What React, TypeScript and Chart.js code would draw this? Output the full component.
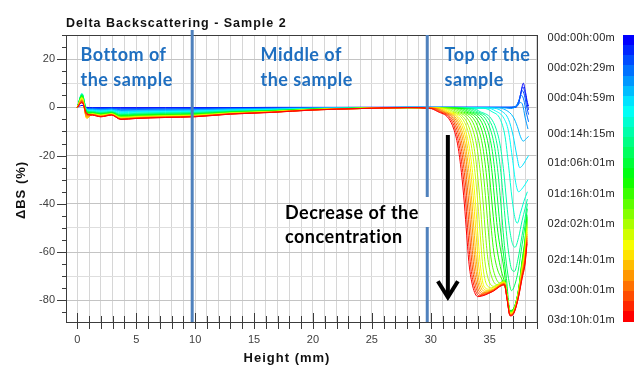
import React, { useEffect, useRef } from "react";
import { Chart, registerables } from "chart.js";
Chart.register(...registerables);

// ---------- DATA ----------
const chartTitle = "Delta Backscattering - Sample 2";
const xTitle = "Height (mm)";
const yTitle = "ΔBS (%)";
const timeLabels = ["00d:00h:00m", "00d:02h:29m", "00d:04h:59m", "00d:14h:15m", "01d:06h:01m", "01d:16h:01m", "02d:02h:01m", "02d:14h:01m", "03d:00h:01m", "03d:10h:01m"];
const zoneLabels = [["Bottom of", "the sample"], ["Middle of", "the sample"], ["Top of the", "sample"]];
const noteLines = ["Decrease of the", "concentration"];
const zoneBoundaries = [9.75, 29.7]; // mm
const arrowHeight = 31.45; // mm
const arrowFrom = -11.5;
const arrowTo = -80;

// bottom / middle part of every scan, sampled at these heights (mm)
const baseHeights = [0, 0.4, 0.8, 1.3, 2, 2.9, 3.7, 5, 7.5, 10, 13, 16.5, 20, 24, 28];
const b00 = [0, 0.8, 0, -0.1, -0.1, -0.1, -0.1, -0.1, -0.1, -0.1, -0.1, 0, 0, 0, 0];
const b01 = [0, 2, -0.3, -0.3, -0.3, -0.3, -0.4, -0.4, -0.3, -0.3, -0.2, -0.2, -0.1, 0, 0];
const b02 = [0, 2.5, -0.5, -0.4, -0.5, -0.4, -0.7, -0.6, -0.6, -0.5, -0.4, -0.3, -0.2, -0.1, 0];
const b03 = [0, 3, -0.6, -0.6, -0.8, -0.6, -1.0, -0.9, -0.8, -0.8, -0.6, -0.4, -0.2, -0.1, 0];
const b04 = [0, 3.5, -0.8, -0.8, -1.0, -0.8, -1.3, -1.2, -1.1, -1.0, -0.7, -0.5, -0.3, -0.1, 0];
const b05 = [0, 4.5, -1, -1.0, -1.2, -1.0, -1.6, -1.5, -1.3, -1.2, -0.9, -0.7, -0.4, -0.2, 0];
const b06 = [0, 5, -1, -1.2, -1.5, -1.2, -1.9, -1.7, -1.6, -1.5, -1.1, -0.8, -0.4, -0.2, 0];
const b07 = [0, 5.5, -1.2, -1.4, -1.7, -1.4, -2.2, -2.0, -1.8, -1.7, -1.2, -0.9, -0.5, -0.2, 0];
const b08 = [0, 5.8, -1.3, -1.6, -2.0, -1.6, -2.5, -2.3, -2.1, -2.0, -1.4, -1.1, -0.6, -0.3, -0.1];
const b09 = [0, 5.5, -1.5, -1.8, -2.1, -1.8, -2.8, -2.5, -2.3, -2.1, -1.5, -1.2, -0.6, -0.3, -0.1];
const b10 = [0, 5.5, -1.5, -1.9, -2.3, -1.9, -3.0, -2.8, -2.5, -2.3, -1.7, -1.3, -0.7, -0.3, -0.1];
const b11 = [0, 5, -1.8, -2.0, -2.5, -2.0, -3.2, -2.9, -2.7, -2.5, -1.8, -1.3, -0.7, -0.3, -0.1];
const b12 = [0, 5, -2, -2.2, -2.7, -2.2, -3.4, -3.1, -2.9, -2.7, -1.9, -1.4, -0.7, -0.3, -0.1];
const b13 = [0, 4.8, -2, -2.3, -2.8, -2.3, -3.6, -3.3, -3.0, -2.8, -2.0, -1.5, -0.8, -0.4, -0.1];
const b14 = [0, 4.5, -2.2, -2.4, -2.9, -2.4, -3.7, -3.4, -3.1, -2.9, -2.1, -1.6, -0.8, -0.4, -0.1];
const b15 = [0, 4.5, -2.5, -2.5, -3.0, -2.5, -3.9, -3.5, -3.2, -3.0, -2.2, -1.6, -0.8, -0.4, -0.1];
const b16 = [0, 4.2, -2.8, -2.6, -3.1, -2.6, -4.0, -3.7, -3.4, -3.1, -2.2, -1.7, -0.9, -0.4, -0.1];
const b17 = [0, 4, -3, -2.6, -3.2, -2.6, -4.1, -3.8, -3.4, -3.2, -2.3, -1.7, -0.9, -0.4, -0.1];
const b18 = [0, 4, -3.2, -2.7, -3.3, -2.7, -4.2, -3.9, -3.5, -3.3, -2.4, -1.8, -0.9, -0.4, -0.1];
const b19 = [0, 4, -3.5, -2.8, -3.4, -2.8, -4.3, -4.0, -3.6, -3.4, -2.4, -1.8, -0.9, -0.4, -0.1];
const b20 = [0, 3.8, -4, -2.8, -3.4, -2.8, -4.4, -4.0, -3.7, -3.4, -2.5, -1.8, -1.0, -0.4, -0.1];
const b21 = [0, 3.5, -4.5, -2.9, -3.5, -2.9, -4.5, -4.1, -3.8, -3.5, -2.5, -1.9, -1.0, -0.5, -0.1];
const b22 = [0, 3.2, -4.5, -2.9, -3.6, -2.9, -4.6, -4.2, -3.9, -3.6, -2.6, -1.9, -1.0, -0.5, -0.1];
const b23 = [0, 3, -4, -3.0, -3.7, -3.0, -4.7, -4.3, -3.9, -3.7, -2.6, -2.0, -1.0, -0.5, -0.1];
const b24 = [0, 2.8, -3.5, -3.0, -3.7, -3.0, -4.8, -4.4, -4.0, -3.7, -2.7, -2.0, -1.0, -0.5, -0.1];
const b25 = [0, 2.5, -3, -3.1, -3.8, -3.1, -4.9, -4.5, -4.1, -3.8, -2.7, -2.0, -1.1, -0.5, -0.1];
const b26 = [0, 2.2, -2.8, -3.2, -3.9, -3.2, -5.0, -4.6, -4.2, -3.9, -2.8, -2.1, -1.1, -0.5, -0.1];
const b27 = [0, 2, -2.5, -3.2, -3.9, -3.2, -5.0, -4.6, -4.2, -3.9, -2.8, -2.1, -1.1, -0.5, -0.1];

// top part of every scan: [height mm, ΔBS %]
const t00 = [[37.1, 0], [37.45, 1.5], [37.65, 6], [37.85, 10], [38.05, 6], [38.2, 2], [38.3, 0.5]];
const t01 = [[37.0, 0], [37.4, 1], [37.6, 5], [37.8, 8.5], [38.0, 6], [38.2, 1], [38.3, -1]];
const t02 = [[36.8, 0], [37.3, 0.8], [37.55, 4], [37.75, 7], [37.95, 5], [38.15, 0], [38.3, -3]];
const t03 = [[36.5, 0], [37.2, 0.5], [37.5, 3], [37.7, 5], [37.9, 3], [38.1, -2], [38.3, -6]];
const t04 = [[36.0, -0.1], [36.8, -0.5], [37.3, 0.5], [37.6, 2], [37.8, 1], [38.0, -4], [38.25, -9]];
const t05 = [[35.6, -0.2], [36.4, -1.2], [37.0, -4], [37.35, -8], [37.6, -12], [37.85, -14], [38.1, -13], [38.3, -12]];
const t06 = [[35.2, -0.3], [36.0, -1.5], [36.6, -5], [37.0, -12], [37.3, -20], [37.55, -25], [37.8, -24], [38.05, -22], [38.3, -20]];
const t07 = [[34.8, -0.3], [35.5, -1.5], [36.2, -4.5], [36.6, -10], [36.95, -22], [37.2, -31], [37.45, -35], [37.7, -34], [38.0, -32], [38.25, -30]];
const t08 = [[34.5, -0.4], [35.2, -1.8], [35.9, -5], [36.3, -12], [36.6, -24], [36.9, -38], [37.15, -46], [37.35, -48], [37.6, -44], [37.9, -39], [38.2, -35]];
const t09 = [[33.5, -0.4], [34.2, -1.8], [35.1, -4.5], [35.55, -9], [35.9, -16], [36.2, -27], [36.45, -40], [36.65, -49], [36.9, -56], [37.15, -58], [37.45, -54], [37.75, -47], [38.0, -42], [38.2, -38]];
const t10 = [[33.25, -0.4], [33.95, -1.8], [34.85, -4.5], [35.3, -9], [35.65, -16], [35.95, -27], [36.2, -40], [36.4, -51], [36.6, -60], [36.85, -67], [37.1, -68], [37.4, -63], [37.75, -53], [38.0, -46], [38.2, -40]];
const t11 = [[33.0, -0.4], [33.7, -1.8], [34.6, -4.5], [35.05, -9], [35.4, -16], [35.7, -27], [35.95, -40], [36.15, -52], [36.35, -62], [36.6, -71], [36.85, -76], [37.1, -74], [37.41, -68], [37.75, -57], [38.0, -49], [38.2, -42]];
const t12 = [[32.75, -0.4], [33.45, -1.8], [34.35, -4.5], [34.8, -9], [35.15, -16], [35.45, -27], [35.7, -40], [35.9, -50], [36.1, -58], [36.4, -70], [36.73, -84.2], [36.98, -83.7], [37.41, -76.5], [37.75, -63.5], [38.0, -54.5], [38.17, -44.5]];
const t13 = [[32.5, -0.4], [33.2, -1.8], [34.1, -4.5], [34.55, -9], [34.9, -16], [35.2, -27], [35.45, -40], [35.65, -50], [35.85, -57], [36.15, -65], [36.47, -77], [36.73, -84.4], [36.98, -83.9], [37.41, -76.7], [37.75, -64], [38.0, -55.2], [38.17, -45.3]];
const t14 = [[32.25, -0.4], [32.95, -1.8], [33.85, -4.5], [34.3, -9], [34.65, -16], [34.95, -27], [35.2, -40], [35.4, -50], [35.6, -58], [35.9, -66], [36.2, -71.5], [36.47, -77.5], [36.73, -84.5], [36.98, -84], [37.41, -76.9], [37.75, -64.5], [38.0, -55.9], [38.17, -46.1]];
const t15 = [[32.0, -0.4], [32.7, -1.8], [33.6, -4.5], [34.05, -9], [34.4, -16], [34.7, -27], [34.95, -40], [35.15, -51], [35.35, -60], [35.65, -67], [36.1, -72], [36.47, -77.7], [36.73, -84.7], [36.98, -84.2], [37.41, -77.1], [37.75, -65], [38.0, -56.6], [38.17, -46.9]];
const t16 = [[31.75, -0.4], [32.45, -1.8], [33.35, -4.5], [33.8, -9], [34.15, -16], [34.45, -27], [34.7, -40], [34.9, -52], [35.1, -62], [35.4, -69], [35.85, -72.8], [36.25, -71.9], [36.47, -77.8], [36.73, -84.8], [36.98, -84.3], [37.41, -77.3], [37.75, -65.5], [38.0, -57.3], [38.17, -47.7]];
const t17 = [[31.5, -0.4], [32.2, -1.8], [33.1, -4.5], [33.55, -9], [33.9, -16], [34.2, -27], [34.45, -40], [34.65, -53], [34.85, -63], [35.15, -70], [35.6, -73.5], [36.25, -72.1], [36.47, -78], [36.73, -85], [36.98, -84.5], [37.41, -77.5], [37.75, -66], [38.0, -58], [38.17, -48.5]];
const t18 = [[31.25, -0.4], [31.95, -1.8], [32.85, -4.5], [33.3, -9], [33.65, -16], [33.95, -27], [34.2, -40], [34.4, -53], [34.6, -64], [34.9, -71.5], [35.35, -74.2], [36.25, -72.2], [36.47, -78.2], [36.73, -85.2], [36.98, -84.6], [37.41, -77.7], [37.75, -66.5], [38.0, -58.7], [38.17, -49.3]];
const t19 = [[31.05, -0.4], [31.75, -1.8], [32.65, -4.5], [33.1, -9], [33.45, -16], [33.75, -27], [34.0, -40], [34.2, -53], [34.4, -65], [34.7, -73], [35.15, -74.8], [36.25, -72.4], [36.47, -78.3], [36.73, -85.3], [36.98, -84.8], [37.41, -77.9], [37.75, -67], [38.0, -59.4], [38.17, -50.1]];
const t20 = [[30.85, -0.4], [31.55, -1.8], [32.45, -4.5], [32.9, -9], [33.25, -16], [33.55, -27], [33.8, -40], [34.0, -53], [34.2, -65], [34.5, -74], [34.95, -75.4], [36.25, -72.5], [36.47, -78.4], [36.73, -85.4], [36.98, -84.9], [37.41, -78.1], [37.75, -67.5], [38.0, -60.1], [38.17, -50.9]];
const t21 = [[30.7, -0.4], [31.4, -1.8], [32.3, -4.5], [32.75, -9], [33.1, -16], [33.4, -27], [33.65, -40], [33.85, -53], [34.05, -65], [34.35, -74], [34.8, -75.9], [35.2, -75.6], [36.25, -72.7], [36.47, -78.6], [36.73, -85.6], [36.98, -85.1], [37.41, -78.3], [37.75, -68], [38.0, -60.8], [38.17, -51.7]];
const t22 = [[30.55, -0.4], [31.25, -1.8], [32.15, -4.5], [32.6, -9], [32.95, -16], [33.25, -27], [33.5, -40], [33.7, -53], [33.9, -65], [34.2, -74], [34.65, -76.3], [35.2, -75.7], [36.25, -72.8], [36.47, -78.7], [36.73, -85.7], [36.98, -85.2], [37.41, -78.5], [37.75, -68.5], [38.0, -61.5], [38.17, -52.5]];
const t23 = [[30.42, -0.4], [31.12, -1.8], [32.02, -4.5], [32.47, -9], [32.82, -16], [33.12, -27], [33.37, -40], [33.57, -53], [33.77, -65], [34.07, -74], [34.52, -76.8], [35.2, -75.9], [36.25, -73.0], [36.47, -78.9], [36.73, -85.9], [36.98, -85.4], [37.41, -78.7], [37.75, -69], [38.0, -62.2], [38.17, -53.3]];
const t24 = [[30.28, -0.4], [30.98, -1.8], [31.88, -4.5], [32.33, -9], [32.68, -16], [32.98, -27], [33.23, -40], [33.43, -53], [33.63, -65], [33.93, -74], [34.38, -77.2], [35.2, -76.1], [36.25, -73.2], [36.47, -79.1], [36.73, -86.0], [36.98, -85.5], [37.41, -78.9], [37.75, -69.5], [38.0, -62.9], [38.17, -54.1]];
const t25 = [[30.15, -0.4], [30.85, -1.8], [31.75, -4.5], [32.2, -9], [32.55, -16], [32.85, -27], [33.1, -40], [33.3, -53], [33.5, -65], [33.8, -74], [34.25, -77.7], [35.2, -76.2], [36.25, -73.3], [36.47, -79.2], [36.73, -86.2], [36.98, -85.7], [37.41, -79.1], [37.75, -70], [38.0, -63.6], [38.17, -54.9]];
const t26 = [[30.02, -0.4], [30.72, -1.8], [31.62, -4.5], [32.07, -9], [32.42, -16], [32.72, -27], [32.97, -40], [33.17, -53], [33.37, -65], [33.67, -74], [34.12, -78.1], [35.2, -76.4], [36.25, -73.5], [36.47, -79.4], [36.73, -86.3], [36.98, -85.8], [37.41, -79.3], [37.75, -70.5], [38.0, -64.3], [38.17, -55.7]];
const t27 = [[29.9, -0.4], [30.6, -1.8], [31.5, -4.5], [31.95, -9], [32.3, -16], [32.6, -27], [32.85, -40], [33.05, -53], [33.25, -65], [33.55, -74], [34.0, -78.5], [35.2, -76.5], [36.25, -73.6], [36.47, -79.5], [36.73, -86.5], [36.98, -86], [37.41, -79.5], [37.75, -71], [38.0, -65], [38.17, -56.5]];

const scanBases = [b00, b01, b02, b03, b04, b05, b06, b07, b08, b09, b10, b11, b12, b13, b14, b15, b16, b17, b18, b19, b20, b21, b22, b23, b24, b25, b26, b27];
const scanTops = [t00, t01, t02, t03, t04, t05, t06, t07, t08, t09, t10, t11, t12, t13, t14, t15, t16, t17, t18, t19, t20, t21, t22, t23, t24, t25, t26, t27];

// ---------- STYLE ----------
const N = scanBases.length;
const scanColor = (k: number) => `hsl(${(240 * (1 - k / (N - 1))).toFixed(1)}, 100%, 50%)`;
const legendY = [38, 68, 98, 134, 163, 194, 224, 260, 290, 320];
const SANS = "'Liberation Sans', Arial, sans-serif";
const CAL = "Lato, 'Noto Sans', sans-serif";

function buildDatasets() {
  const ds: any[] = [];
  for (let k = N - 1; k >= 0; k--) {
    const pts = baseHeights.map((x, i) => ({ x, y: scanBases[k][i] }));
    scanTops[k].forEach(([x, y]) => pts.push({ x, y }));
    ds.push({
      data: pts,
      borderColor: scanColor(k),
      borderWidth: 1,
      pointRadius: 0,
      fill: false,
      cubicInterpolationMode: "monotone",
    });
  }
  return ds;
}

function setSpacing(ctx: any, v: string) {
  if ("letterSpacing" in ctx) ctx.letterSpacing = v;
}

const decor = {
  id: "decor",
  afterDraw(chart: any) {
    const { ctx, chartArea: a, scales } = chart;
    const xs = scales.x;
    const ys = scales.y;
    ctx.save();
    // frame
    ctx.strokeStyle = "#3c3c3c";
    ctx.lineWidth = 1;
    ctx.strokeRect(a.left + 0.5, a.top + 0.5, a.right - a.left - 1, a.bottom - a.top);
    // y ticks
    ctx.beginPath();
    for (let v = -85; v <= 30; v += 5) {
      const py = Math.round(ys.getPixelForValue(v)) + 0.5;
      const len = v % 20 === 0 ? 9 : 4;
      ctx.moveTo(a.left - len, py);
      ctx.lineTo(a.left, py);
    }
    // x ticks
    for (let v = 0; v <= 39; v++) {
      const px = Math.round(xs.getPixelForValue(v)) + 0.5;
      const major = v % 5 === 0;
      ctx.moveTo(px, a.bottom - (major ? 9 : 6));
      ctx.lineTo(px, a.bottom + 7);
    }
    ctx.stroke();

    // zone boundaries
    ctx.strokeStyle = "#4f81bd";
    ctx.lineWidth = 3;
    const bx1 = xs.getPixelForValue(zoneBoundaries[0]);
    const bx2 = xs.getPixelForValue(zoneBoundaries[1]);
    ctx.beginPath();
    ctx.moveTo(bx1, 30);
    ctx.lineTo(bx1, a.bottom);
    ctx.moveTo(bx2, 35);
    ctx.lineTo(bx2, 197);
    ctx.moveTo(bx2, 227);
    ctx.lineTo(bx2, a.bottom);
    ctx.stroke();

    // arrow
    const ax = xs.getPixelForValue(arrowHeight);
    const ay1 = ys.getPixelForValue(arrowFrom);
    const ay2 = ys.getPixelForValue(arrowTo);
    ctx.strokeStyle = "#000";
    ctx.lineWidth = 4;
    ctx.beginPath();
    ctx.moveTo(ax, ay1);
    ctx.lineTo(ax, ay2 - 3);
    ctx.stroke();
    ctx.lineJoin = "miter";
    ctx.beginPath();
    ctx.moveTo(ax - 10, ay2 - 19);
    ctx.lineTo(ax, ay2 - 3);
    ctx.lineTo(ax + 10, ay2 - 19);
    ctx.stroke();

    // zone labels
    ctx.fillStyle = "#1f6fc0";
    ctx.font = `bold 18px ${CAL}`;
    setSpacing(ctx, "0.5px");
    ctx.textAlign = "left";
    ctx.textBaseline = "alphabetic";
    const zx = [80.5, 260.5, 444.5];
    zoneLabels.forEach((lines, i) => {
      ctx.fillText(lines[0], zx[i], 60.5);
      ctx.fillText(lines[1], zx[i], 85.5);
    });
    ctx.fillStyle = "#000";
    ctx.fillText(noteLines[0], 285, 219);
    ctx.fillText(noteLines[1], 285, 243);

    // title
    ctx.fillStyle = "#111";
    ctx.font = `bold 12.5px ${SANS}`;
    setSpacing(ctx, "1px");
    ctx.fillText(chartTitle, 66, 26.5);

    // x title
    ctx.font = `bold 13px ${SANS}`;
    setSpacing(ctx, "1px");
    ctx.textAlign = "center";
    ctx.fillText(xTitle, 287, 362);

    // y title
    ctx.save();
    ctx.translate(21, 190);
    ctx.rotate(-Math.PI / 2);
    ctx.textBaseline = "middle";
    ctx.fillText(yTitle, 0, 0);
    ctx.restore();

    // colour bar
    const top = a.top;
    const h = a.bottom - a.top;
    for (let k = 0; k < N; k++) {
      const y0 = top + (h * k) / N;
      const y1 = top + (h * (k + 1)) / N;
      ctx.fillStyle = scanColor(k);
      ctx.fillRect(623, Math.floor(y0), 11, Math.ceil(y1) - Math.floor(y0));
    }
    // legend labels
    ctx.fillStyle = "#222";
    ctx.font = `11px ${SANS}`;
    setSpacing(ctx, "0.3px");
    ctx.textAlign = "left";
    ctx.textBaseline = "middle";
    timeLabels.forEach((t, i) => ctx.fillText(t, 547.5, legendY[i]));
    ctx.restore();
  },
};

export default function App() {
  const ref = useRef<HTMLCanvasElement>(null);
  useEffect(() => {
    if (!ref.current) return;
    const chart = new Chart(ref.current, {
      type: "line",
      data: { datasets: buildDatasets() },
      options: {
        responsive: false,
        animation: false,
        devicePixelRatio: 1,
        layout: { padding: { left: 0, top: 35, right: 96, bottom: 0 } },
        plugins: { legend: { display: false }, tooltip: { enabled: false }, title: { display: false } },
        scales: {
          x: {
            type: "linear",
            min: -0.96,
            max: 39.1,
            afterFit: (s: any) => { s.height = 43; },
            afterBuildTicks: (s: any) => { s.ticks = s.ticks.filter((t: any) => t.value >= s.min && t.value <= s.max); },
            border: { display: false },
            grid: { color: "#d6d6d6", drawTicks: false, lineWidth: 1 },
            ticks: {
              stepSize: 1,
              autoSkip: false,
              maxRotation: 0,
              includeBounds: false,
              maxTicksLimit: 200,
              padding: 11,
              color: "#404040",
              font: { family: SANS, size: 11 },
              callback: (v: any) => (Math.round(v) % 5 === 0 ? String(Math.round(v)) : ""),
            },
          },
          y: {
            type: "linear",
            min: -89,
            max: 30,
            afterFit: (s: any) => { s.width = 66; },
            afterBuildTicks: (s: any) => { s.ticks = s.ticks.filter((t: any) => t.value >= s.min && t.value <= s.max); },
            border: { display: false },
            grid: {
              drawTicks: false,
              color: (c: any) => (c.tick && Math.round(c.tick.value) % 20 === 0 ? "#c4c4c4" : "#dedede"),
            },
            ticks: {
              stepSize: 10,
              autoSkip: false,
              includeBounds: false,
              padding: 11,
              color: "#404040",
              font: { family: SANS, size: 11 },
              callback: (v: any) => (Math.round(v) % 20 === 0 ? String(Math.round(v)) : ""),
            },
          },
        },
      },
      plugins: [decor],
    } as any);
    return () => chart.destroy();
  }, []);
  return (
    <div style={{ position: "absolute", left: 0, top: 0, width: 634, height: 365, background: "#fff" }}>
      <canvas ref={ref} width={634} height={365} style={{ display: "block", width: 634, height: 365 }} />
    </div>
  );
}
